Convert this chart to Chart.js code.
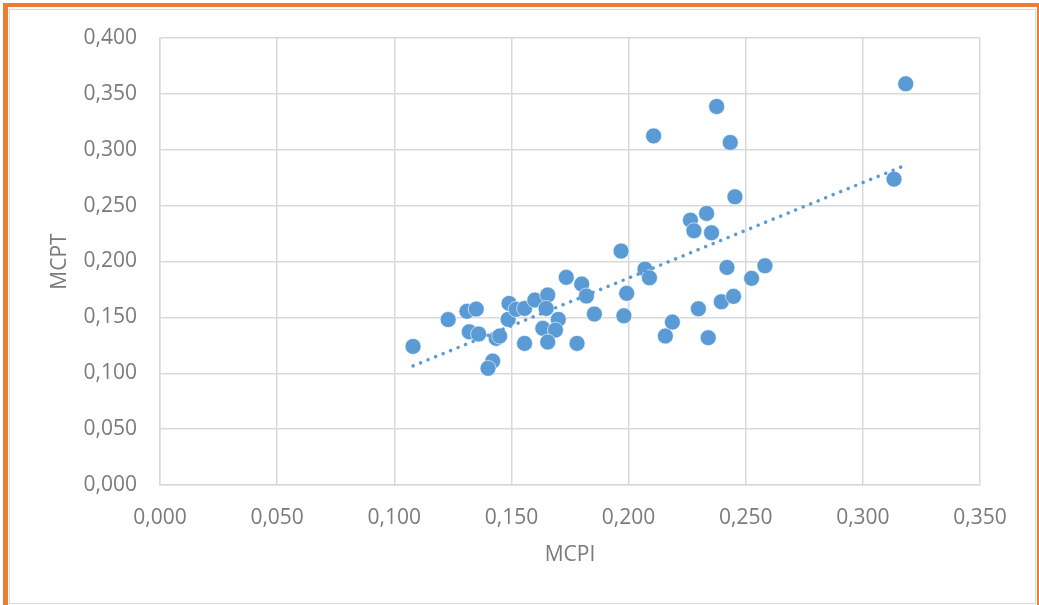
<!DOCTYPE html>
<html>
<head>
<meta charset="utf-8">
<script src="https://cdn.jsdelivr.net/npm/chart.js@4/dist/chart.umd.min.js"></script>
<style>
  html, body { margin: 0; padding: 0; background: #fff; overflow: hidden; }
  .frame {
    position: absolute; left: 3px; top: 3px; width: 1029px; height: 620px;
    border-left: 5px solid #ed7d31; border-top: 4px solid #ed7d31; border-right: 2px solid #ed7d31;
  }
  .inner {
    position: absolute; left: 9px; top: 9px; width: 1025px; height: 593px;
    border: 1px solid #d9d9d9;
  }
  #wrap { position: absolute; left: 0; top: 0; width: 1039px; height: 605px; }
</style>
</head>
<body>
<div class="frame"></div>
<div class="inner"></div>
<div id="wrap"><canvas id="chart"></canvas></div>
<script>
  // MCPI (x) / MCPT (y)
  const mcpi = [
    0.108, 0.123, 0.131, 0.135, 0.132, 0.136, 0.1435, 0.145, 0.142, 0.140,
    0.149, 0.1486, 0.152, 0.1556, 0.160, 0.1655, 0.1648, 0.1556, 0.1634, 0.170,
    0.1688, 0.1655, 0.1734, 0.180, 0.182, 0.178, 0.1854, 0.198, 0.1992, 0.1968,
    0.207, 0.2089, 0.2107, 0.2157, 0.2187, 0.2298, 0.2264, 0.2279, 0.2333, 0.2354,
    0.234, 0.2376, 0.2396, 0.242, 0.2434, 0.2448, 0.2454, 0.2525, 0.2582, 0.3133,
    0.3183
  ];
  const mcpt = [
    0.124, 0.148, 0.1554, 0.1574, 0.1371, 0.1351, 0.1312, 0.1333, 0.1109, 0.1044,
    0.1625, 0.1482, 0.1572, 0.158, 0.1655, 0.170, 0.158, 0.1267, 0.1402, 0.1482,
    0.1386, 0.1279, 0.1858, 0.1798, 0.1691, 0.1267, 0.153, 0.1514, 0.1715, 0.2093,
    0.1932, 0.1854, 0.3124, 0.1333, 0.1458, 0.1577, 0.237, 0.2275, 0.243, 0.2257,
    0.1318, 0.3387, 0.164, 0.1947, 0.3065, 0.1688, 0.2579, 0.1849, 0.1962, 0.2737,
    0.359
  ];
  // dotted linear trend line, ends
  const trendX = [0.108, 0.318];
  const trendY = [0.1066, 0.286];

  const xTicks = [0, 0.05, 0.1, 0.15, 0.2, 0.25, 0.3, 0.35];
  const yTicks = [0, 0.05, 0.1, 0.15, 0.2, 0.25, 0.3, 0.35, 0.4];

  const fmt = (v) => v.toFixed(3).replace(".", ",");
  const labelFont = { family: "'Open Sans', sans-serif", size: 21 };
  const grey = "#7a7a7a";
  const gridColor = "#d9d9d9";

  new Chart(document.getElementById("chart"), {
    type: "scatter",
    data: {
      datasets: [
        {
          type: "line",
          data: trendX.map((x, i) => ({ x, y: trendY[i] })),
          borderColor: "#5b9bd5",
          borderWidth: 3.5,
          borderDash: [0.1, 8],
          borderCapStyle: "round",
          pointRadius: 0,
          fill: false,
          order: 0
        },
        {
          data: mcpi.map((x, i) => ({ x, y: mcpt[i] })),
          backgroundColor: "#5b9bd5",
          borderColor: "rgba(255,255,255,0.6)",
          borderWidth: 1,
          pointRadius: 8,
          order: 1
        }
      ]
    },
    options: {
      responsive: true,
      maintainAspectRatio: false,
      animation: false,
      layout: { padding: { left: 0, right: 59, top: 38, bottom: 0 } },
      plugins: { legend: { display: false }, tooltip: { enabled: false } },
      scales: {
        x: {
          type: "linear",
          min: 0,
          max: 0.35,
          afterBuildTicks: (s) => { s.ticks = xTicks.map((v) => ({ value: v })); },
          afterFit: (s) => { s.height = 120; },
          grid: { color: gridColor, lineWidth: 1.5, drawTicks: false },
          border: { color: gridColor, width: 1.5 },
          ticks: { color: grey, font: labelFont, padding: 20, maxRotation: 0, callback: (v) => fmt(v) },
          title: { display: true, text: "MCPI", color: grey, font: labelFont, padding: { top: 0, bottom: 37 } }
        },
        y: {
          type: "linear",
          min: 0,
          max: 0.4,
          afterBuildTicks: (s) => { s.ticks = yTicks.map((v) => ({ value: v })); },
          afterFit: (s) => { s.width = 160; },
          grid: { color: gridColor, lineWidth: 1.5, drawTicks: false },
          border: { color: gridColor, width: 1.5 },
          ticks: { color: grey, font: labelFont, padding: 23, callback: (v) => fmt(v) },
          title: { display: true, text: "MCPT", color: grey, font: labelFont, padding: { top: 47, bottom: 0 } }
        }
      }
    }
  });
</script>
</body>
</html>
